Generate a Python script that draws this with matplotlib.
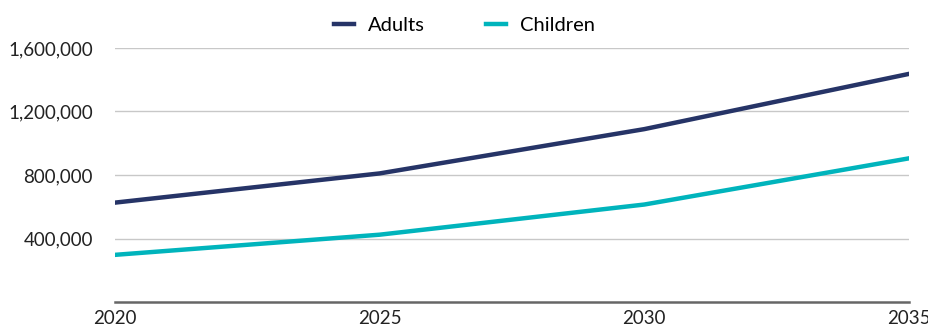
import matplotlib
matplotlib.use('Agg')
import matplotlib.pyplot as plt
from matplotlib.ticker import FuncFormatter

plt.rcParams['font.family'] = ['Lato', 'DejaVu Sans']

# ===== data =====
years = [2020, 2025, 2030, 2035]
adults = [626000, 810000, 1089000, 1437000]
children = [297000, 424000, 614000, 905000]
yticks = [400000, 800000, 1200000, 1600000]

fig = plt.figure(figsize=(9.29, 3.31), dpi=100)
ax = fig.add_axes([115 / 929, 1 - 302 / 331, (909 - 115) / 929, (302 - 48) / 331])

ax.plot(years, adults, color='#263467', lw=3.2, label='Adults', solid_joinstyle='round')
ax.plot(years, children, color='#00b4bc', lw=3.2, label='Children', solid_joinstyle='round')

ax.set_xlim(2020, 2035)
ax.set_ylim(0, 1600000)
ax.set_xticks(years)
ax.set_yticks(yticks)
ax.yaxis.set_major_formatter(FuncFormatter(lambda v, p: f"{int(v):,}"))

ax.grid(axis='y', color='#c8c8c8', lw=1)
ax.set_axisbelow(True)
for s in ['top', 'right', 'left']:
    ax.spines[s].set_visible(False)
ax.spines['bottom'].set_color('#666666')
ax.spines['bottom'].set_linewidth(1.8)

ax.tick_params(axis='both', length=0, labelsize=13.5, colors='#222222')
ax.tick_params(axis='y', pad=16)
ax.tick_params(axis='x', pad=6)

fig.legend(loc='center', bbox_to_anchor=(0.5, 1 - 25 / 331), ncol=2, frameon=False,
           fontsize=14.5, handlelength=1.0, handletextpad=0.7, columnspacing=3.0)

fig.savefig('out.png', dpi=100)
